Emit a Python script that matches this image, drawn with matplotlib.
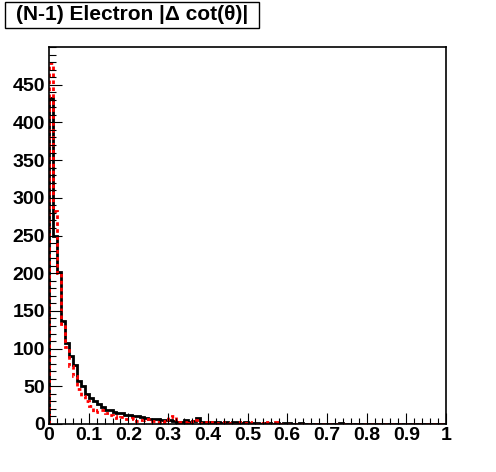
import numpy as np
import matplotlib.pyplot as plt
from matplotlib.patches import Rectangle
from matplotlib.ticker import MultipleLocator

# 100 bins of width 0.01 on [0, 1]
edges = np.linspace(0, 1, 101)

black_counts = [433, 250, 201, 136, 107, 90, 78, 57, 50, 40,
                34, 30, 27, 22, 19, 18, 16, 15, 14, 12,
                12, 10, 10, 9, 8, 7, 6, 6, 5, 5,
                5, 4, 2, 3, 5, 3, 4, 8, 3, 2,
                3, 2, 2, 1, 2, 1, 2, 2, 1, 3,
                1, 1, 1, 0, 1, 1, 0, 1, 0, 1,
                1, 0, 0, 1, 0, 0, 0, 0, 0, 0,
                0, 0, 0, 1, 0, 0, 0, 0, 0, 0,
                0, 0, 0, 0, 0, 0, 0, 0, 0, 0,
                0, 0, 0, 0, 0, 0, 0, 0, 0, 0]

red_counts = [479, 282, 200, 133, 102, 77, 64, 46, 37, 30,
              24, 16, 18, 19, 14, 12, 11, 8, 9, 7,
              6, 8, 4, 5, 7, 6, 4, 3, 4, 3,
              9, 10, 2, 3, 2, 4, 3, 5, 1, 2,
              1, 2, 1, 1, 2, 1, 0, 2, 1, 1,
              2, 0, 0, 1, 0, 2, 0, 2, 0, 0,
              0, 0, 0, 0, 0, 0, 0, 0, 0, 0,
              0, 0, 0, 0, 0, 0, 0, 0, 0, 0,
              0, 0, 0, 0, 0, 0, 0, 0, 0, 0,
              0, 0, 0, 0, 0, 0, 0, 0, 0, 0]

title = "(N-1) Electron |\u0394 cot(\u03b8)|"

plt.rcParams['font.family'] = ['Liberation Sans', 'DejaVu Sans']
plt.rcParams['font.weight'] = 'bold'

W, H = 496, 472
fig = plt.figure(figsize=(W/100, H/100), dpi=100)
ax = fig.add_axes([49/W, 1 - 424/H, (446-49)/W, (424-47)/H])

ax.stairs(black_counts, edges, color='black', lw=2.0)
ax.stairs(red_counts, edges, color='red', lw=2.0, linestyle=(0, (1.3, 1.2)))

ax.set_xlim(0, 1)
ax.set_ylim(0, 500)

ax.xaxis.set_minor_locator(MultipleLocator(0.02))
ax.yaxis.set_minor_locator(MultipleLocator(10))
ax.set_xticks(np.arange(0, 1.01, 0.1))
ax.set_xticklabels(['0', '0.1', '0.2', '0.3', '0.4', '0.5', '0.6', '0.7', '0.8', '0.9', '1'])
ax.set_yticks(np.arange(0, 451, 50))

ax.tick_params(axis='x', which='major', direction='in', length=8, width=0.8, labelsize=14, pad=2)
ax.tick_params(axis='x', which='minor', direction='in', length=4, width=0.8)
ax.tick_params(axis='y', which='major', direction='in', length=9, width=0.8, labelsize=14, pad=3)
ax.tick_params(axis='y', which='minor', direction='in', length=5, width=0.8)

for s in ax.spines.values():
    s.set_linewidth(1.2)

# title box like a ROOT pave
fig.patches.append(Rectangle((5/W, 1 - 28/H), (259-5)/W, 26/H, transform=fig.transFigure,
                             fc='white', ec='black', lw=1.0))
fig.text(132/W, 1 - 15/H, title, fontsize=15, fontweight='bold', va='center', ha='center')

plt.savefig('out.png', dpi=100)
